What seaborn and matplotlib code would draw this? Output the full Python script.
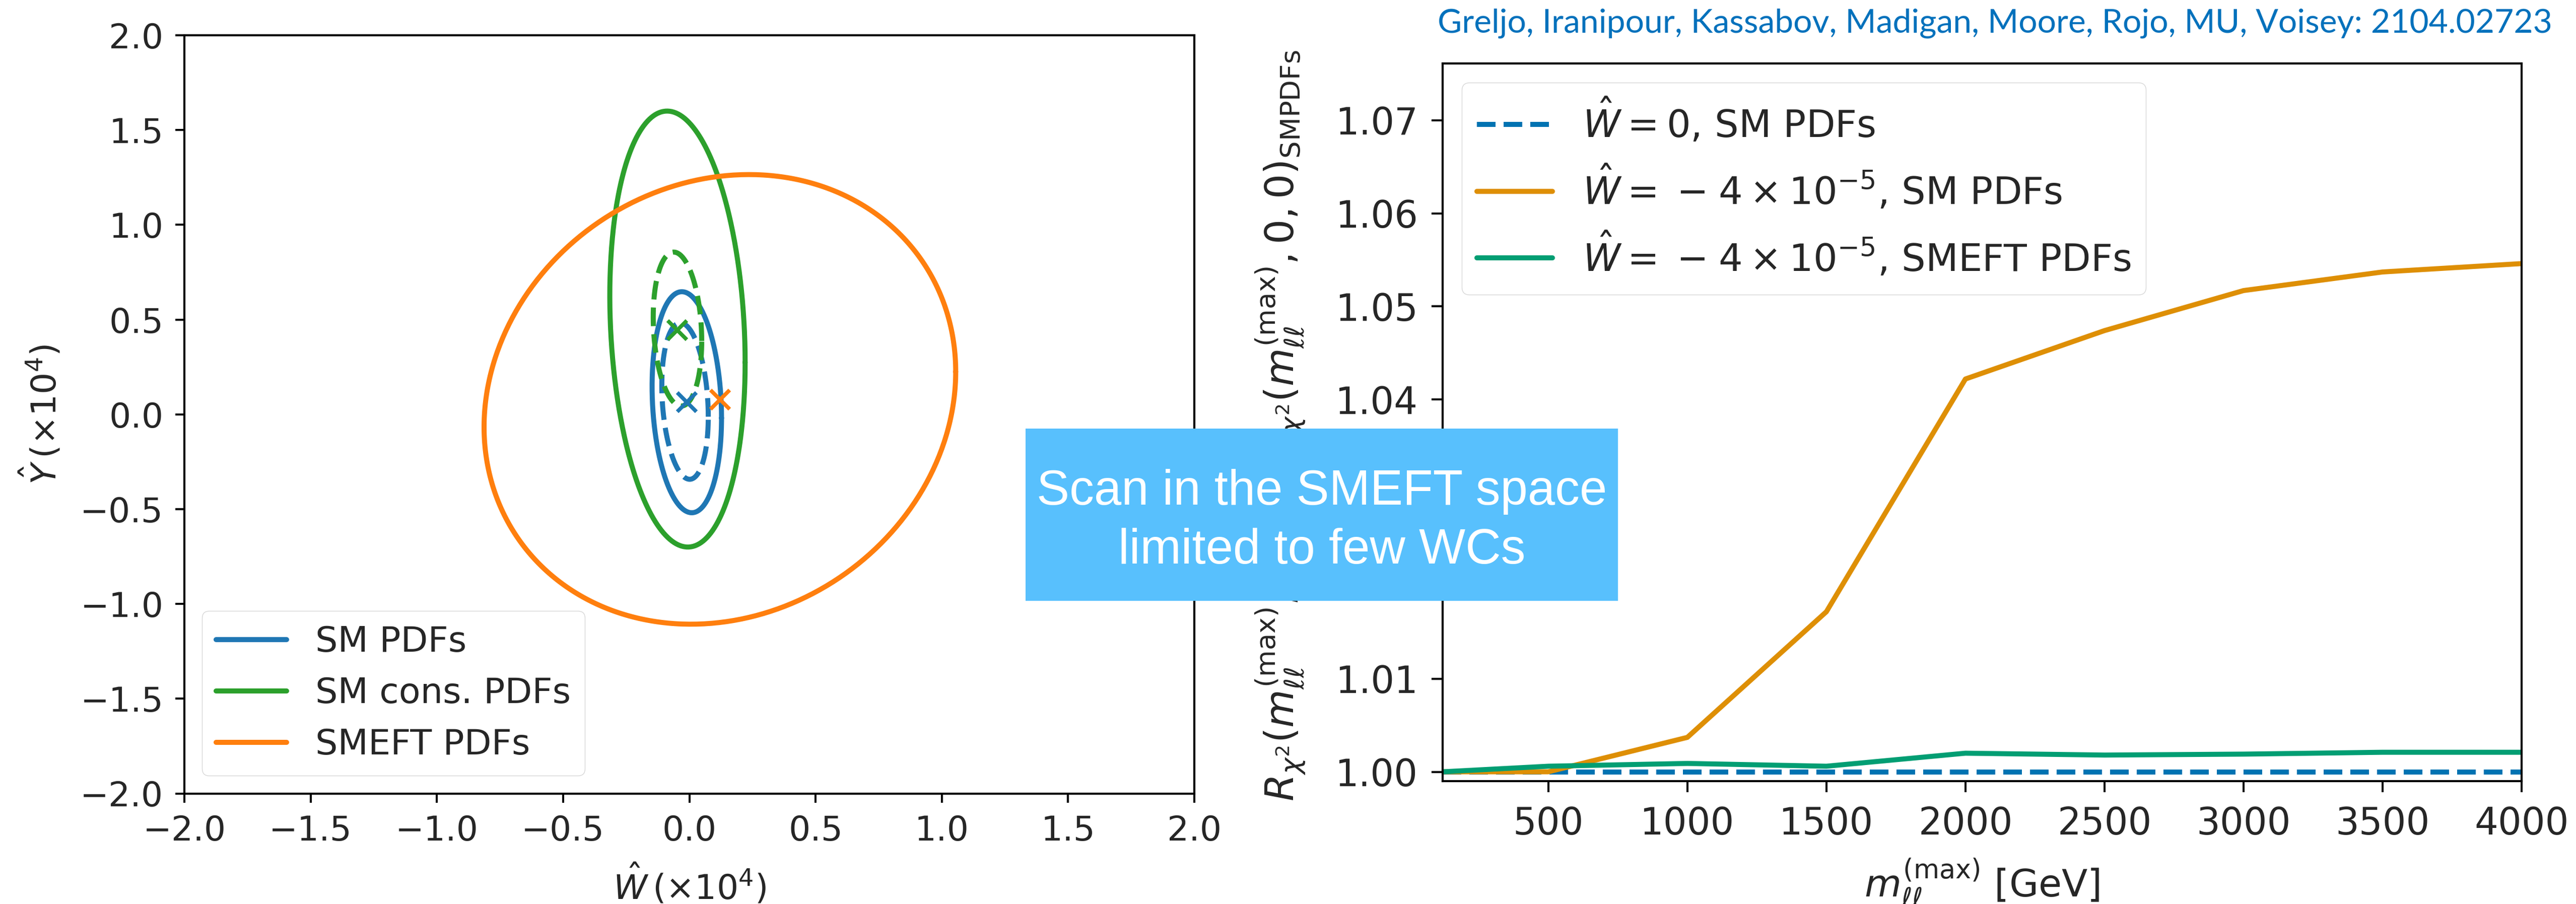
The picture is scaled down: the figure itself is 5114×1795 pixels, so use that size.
import numpy as np
import pandas as pd
import matplotlib
matplotlib.use("Agg")
import matplotlib.pyplot as plt
from matplotlib.patches import Rectangle
from matplotlib.ticker import FormatStrFormatter, FuncFormatter
import seaborn as sns

# ---------------- data ----------------
# confidence contours in the (W, Y) plane (units of 1e-4)
contour_names = ["SM PDFs", "SM PDFs", "SM cons. PDFs", "SM cons. PDFs", "SMEFT PDFs"]
contour_styles = ["-", "--", "-", "--", "-"]
contour_center_w = [-0.010, -0.017, -0.047, -0.047, 0.121]
contour_center_y = [0.064, 0.070, 0.450, 0.450, 0.079]
contour_sigma_w = [0.1375, 0.092, 0.268, 0.096, 0.934]
contour_sigma_y = [0.583, 0.4125, 1.150, 0.406, 1.186]
contour_rho = [-0.143, -0.20, -0.153, -0.155, 0.123]

# best-fit points
best_names = ["SM PDFs", "SM cons. PDFs", "SMEFT PDFs"]
best_w = [-0.011, -0.048, 0.121]
best_y = [0.067, 0.446, 0.079]

# chi2 ratio vs maximum invariant mass
mll_max = [120, 500, 1000, 1500, 2000, 2500, 3000, 3500, 4000]
r_w0_sm = [1.0, 1.0, 1.0, 1.0, 1.0, 1.0, 1.0, 1.0, 1.0]
r_w4_sm = [1.0000, 1.0000, 1.0037, 1.0172, 1.0422, 1.0474, 1.0517, 1.0537, 1.0546]
r_w4_smeft = [1.0000, 1.0006, 1.0009, 1.0006, 1.0020, 1.0018, 1.0019, 1.0021, 1.0021]

right_labels = [r"$\hat{W} = 0$, SM PDFs",
                r"$\hat{W} =\;{-}\;4\times10^{-5}$, SM PDFs",
                r"$\hat{W} =\;{-}\;4\times10^{-5}$, SMEFT PDFs"]
right_ylabel = (r"$R_{\chi^2}(m_{\ell\ell}^{(\mathrm{max})}, \hat{W}, 0)\,/\,"
                r"R_{\chi^2}(m_{\ell\ell}^{(\mathrm{max})}, 0, 0)_{\mathrm{SMPDFs}}$")

# ---------------- style ----------------
sns.set_style("ticks")
plt.rcParams["font.family"] = ["DejaVu Sans"]
plt.rcParams["mathtext.fontset"] = "dejavusans"

W, H, DPI = 5114, 1795, 100
fig = plt.figure(figsize=(W / DPI, H / DPI), dpi=DPI, facecolor="white")

def px_rect(x0, y0, x1, y1):
    return [x0 / W, 1 - y1 / H, (x1 - x0) / W, (y1 - y0) / H]

ax1 = fig.add_axes(px_rect(366, 70, 2371, 1575.5))
ax2 = fig.add_axes(px_rect(2864, 126, 5006, 1551))

LW = 7.2
tab = sns.color_palette("tab10")
left_colors = {"SM PDFs": tab[0], "SM cons. PDFs": tab[2], "SMEFT PDFs": tab[1]}
cb = sns.color_palette("colorblind")

# ---------------- left panel: contours ----------------
t = np.linspace(0, 2 * np.pi, 400)
seen = set()
for name, ls, cw, cy, sw, sy, rho in zip(contour_names, contour_styles, contour_center_w,
                                         contour_center_y, contour_sigma_w, contour_sigma_y,
                                         contour_rho):
    ew = cw + sw * np.cos(t)
    ey = cy + sy * (rho * np.cos(t) + np.sqrt(1 - rho ** 2) * np.sin(t))
    lab = name if (ls == "-" and name not in seen) else "_nolegend_"
    if ls == "-":
        seen.add(name)
    sns.lineplot(x=ew, y=ey, sort=False, estimator=None, ax=ax1, color=left_colors[name],
                 lw=LW, ls=ls, label=lab, legend=False)

for name, bw, by in zip(best_names, best_w, best_y):
    sns.scatterplot(x=[bw], y=[by], ax=ax1, marker="x", s=750, color=left_colors[name],
                    linewidth=5.5, legend=False, zorder=5)

ax1.set_xlim(-2, 2)
ax1.set_ylim(-2, 2)
ticks = np.arange(-2, 2.01, 0.5)
ax1.set_xticks(ticks)
ax1.set_yticks(ticks)
minus_fmt = FuncFormatter(lambda v, p: f"{v:.1f}".replace("-", "\u2212"))
ax1.xaxis.set_major_formatter(minus_fmt)
ax1.yaxis.set_major_formatter(minus_fmt)
ax1.tick_params(labelsize=49, length=13, width=2.9, pad=17, color="black")
ax1.set_xlabel(r"$\hat{W}\,(\times 10^4)$", fontsize=49, labelpad=22)
ax1.set_ylabel(r"$\hat{Y}\,(\times 10^4)$", fontsize=49, labelpad=24)
h1, l1 = ax1.get_legend_handles_labels()
order = [l1.index(n) for n in best_names]
ax1.legend([h1[i] for i in order], [l1[i] for i in order], loc="lower left", fontsize=50.5,
           frameon=True, fancybox=True, framealpha=0.8, edgecolor="#cccccc")

# ---------------- right panel: chi2 ratio ----------------
sns.lineplot(x=mll_max, y=r_w0_sm, ax=ax2, color=cb[0], lw=LW, ls="--",
             label=right_labels[0], legend=False)
sns.lineplot(x=mll_max, y=r_w4_sm, ax=ax2, color=cb[1], lw=LW,
             label=right_labels[1], legend=False)
sns.lineplot(x=mll_max, y=r_w4_smeft, ax=ax2, color=cb[2], lw=LW,
             label=right_labels[2], legend=False)
ax2.set_xlim(120, 4000)
ax2.set_ylim(0.999, 1.0761)
ax2.set_xticks(np.arange(500, 4001, 500))
ax2.set_yticks(np.arange(1.00, 1.0701, 0.01))
ax2.yaxis.set_major_formatter(FormatStrFormatter("%.2f"))
ax2.tick_params(labelsize=53, length=16, width=2.9, pad=19, color="black")
ax2.set_xlabel(r"$m_{\ell\ell}^{(\mathrm{max})}$ [GeV]", fontsize=54, labelpad=22)
ax2.set_ylabel(right_ylabel, fontsize=56, labelpad=38)
ax2.yaxis.set_label_coords(-0.126, 0.495)
ax2.legend(loc="upper left", fontsize=54, frameon=True, fancybox=True, framealpha=0.8,
           edgecolor="#cccccc")

for ax in (ax1, ax2):
    for sp in ax.spines.values():
        sp.set_visible(True)
        sp.set_linewidth(3.0)
        sp.set_color("black")

# ---------------- annotations ----------------
fig.text(5067 / W, 1 - 65 / H,
         "Greljo, Iranipour, Kassabov, Madigan, Moore, Rojo, MU, Voisey: 2104.02723",
         ha="right", va="baseline", fontsize=47.5, color="#0071bc", family=["Lato", "DejaVu Sans"])

fig.add_artist(Rectangle((2036 / W, 1 - 1193 / H), (3212 - 2036) / W, (1193 - 851) / H,
                         transform=fig.transFigure, facecolor="#58c0fd", edgecolor="none",
                         zorder=10))
fig.text(2624 / W, 1 - 1002 / H, "Scan in the SMEFT space", ha="center", va="baseline",
         fontsize=70.3, color="white", family=["Liberation Sans", "DejaVu Sans"], zorder=11)
fig.text(2624 / W, 1 - 1119 / H, "limited to few WCs", ha="center", va="baseline",
         fontsize=70.3, color="white", family=["Liberation Sans", "DejaVu Sans"], zorder=11)

fig.savefig("out.png", dpi=DPI, facecolor="white")
